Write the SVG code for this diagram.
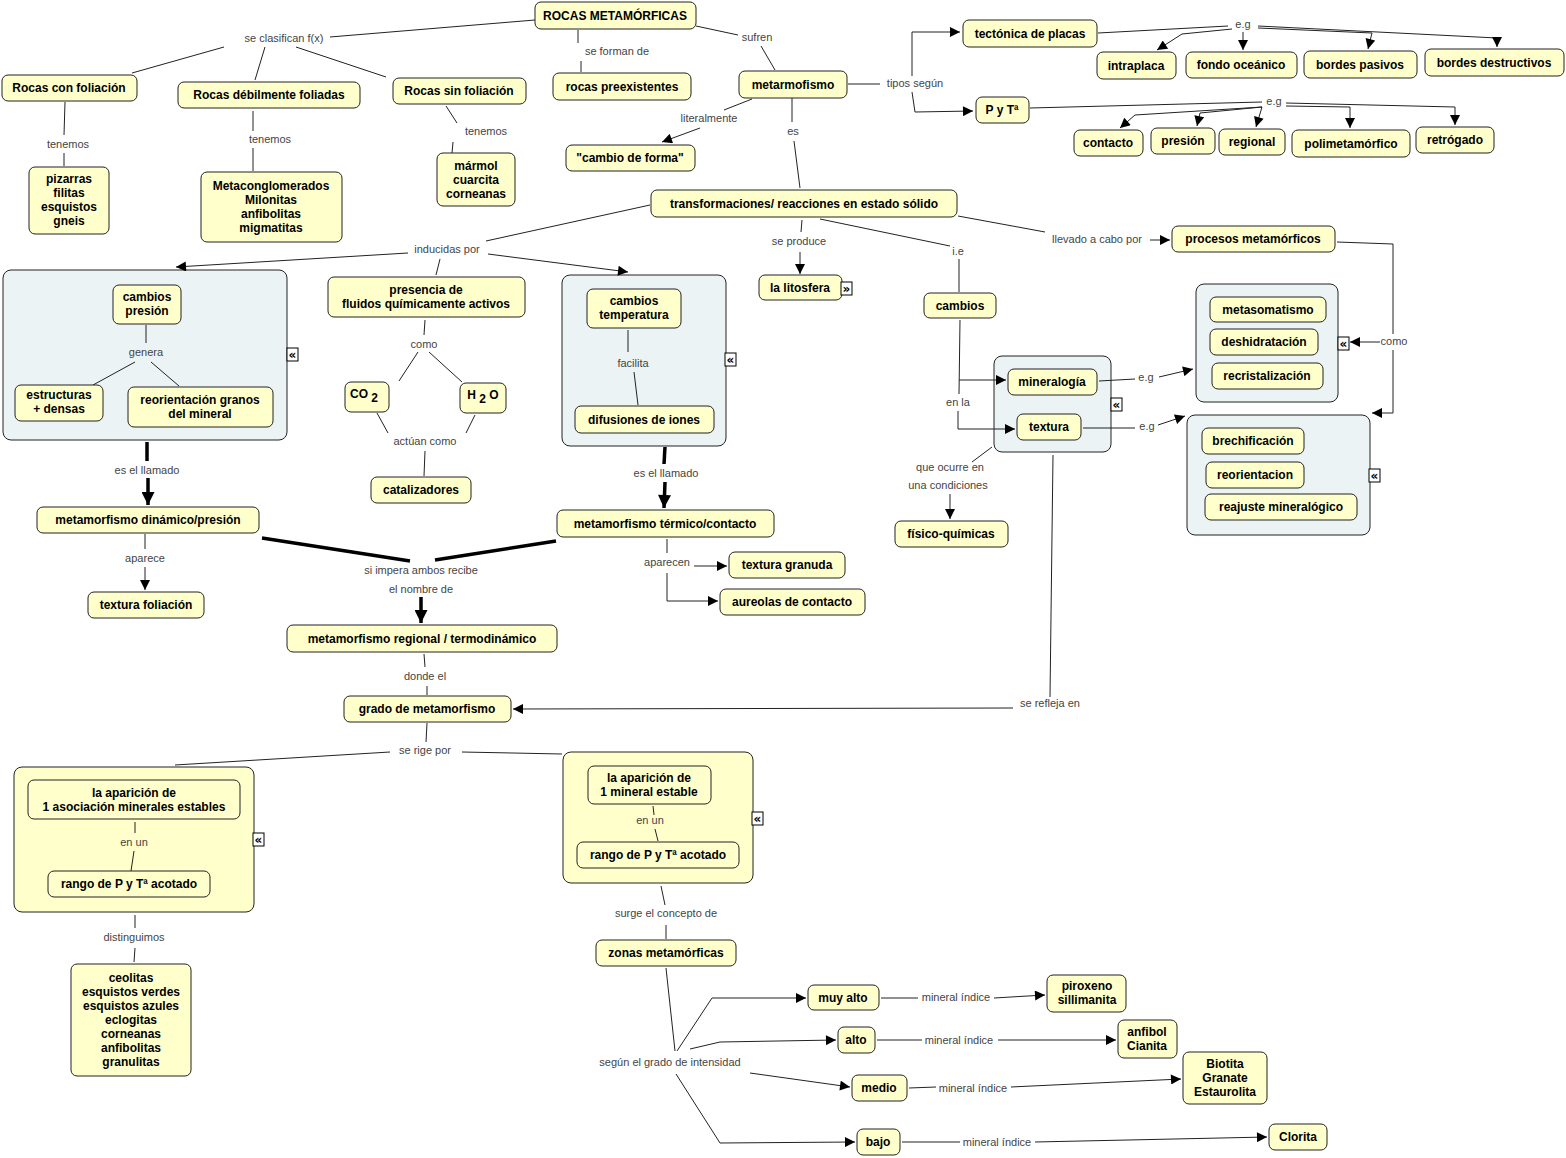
<svg xmlns="http://www.w3.org/2000/svg" width="1566" height="1158" viewBox="0 0 1566 1158">
<defs>
<marker id="a" viewBox="0 0 10 10" refX="10" refY="5" markerWidth="12" markerHeight="10" markerUnits="userSpaceOnUse" orient="auto"><path d="M0,0 L10,5 L0,10 z" fill="#000"/></marker>
<marker id="ab" viewBox="0 0 10 10" refX="10" refY="5" markerWidth="17" markerHeight="13" markerUnits="userSpaceOnUse" orient="auto"><path d="M0,0 L10,5 L0,10 z" fill="#000"/></marker>
<style>
.n{fill:#FFFFCC;stroke:#222;stroke-width:1}
.cb{fill:#ECF3F5;stroke:#222;stroke-width:1}
.cy{fill:#FFFFCC;stroke:#222;stroke-width:1}
.t{font-family:"Liberation Sans",Arial,sans-serif;font-size:12px;font-weight:bold;fill:#000;text-anchor:middle}
.l{font-family:"Liberation Sans",Arial,sans-serif;font-size:11px;fill:#444;text-anchor:middle}
.e path{fill:none;stroke:#222;stroke-width:1}
.e path.k{stroke:#000;stroke-width:3.5}
.ic{fill:#fff;stroke:#000;stroke-width:1}
.it{font-family:"DejaVu Sans",sans-serif;font-size:12px;font-weight:bold;fill:#000;text-anchor:middle}
</style>
</defs>
<rect width="1566" height="1158" fill="#fff"/>

<g id="containers">
<g id="c-presion"><rect class="cb" x="3" y="270" width="284" height="170" rx="8"/><rect class="ic" x="287" y="348" width="11" height="13"/><text class="it" x="292.5" y="359">«</text></g>
<g id="c-temperatura"><rect class="cb" x="562" y="275" width="164" height="171" rx="8"/><rect class="ic" x="725" y="353" width="11" height="13"/><text class="it" x="730.5" y="364">«</text></g>
<g id="c-asociacion"><rect class="cy" x="14" y="767" width="240" height="145" rx="8"/><rect class="ic" x="253" y="833" width="11" height="13"/><text class="it" x="258.5" y="844">«</text></g>
<g id="c-mineral"><rect class="cy" x="563" y="752" width="190" height="131" rx="8"/><rect class="ic" x="752" y="812" width="11" height="13"/><text class="it" x="757.5" y="823">«</text></g>
<g id="c-mintext"><rect class="cb" x="994" y="356" width="117" height="96" rx="8"/><rect class="ic" x="1111" y="398" width="11" height="13"/><text class="it" x="1116.5" y="409">«</text></g>
<g id="c-procesos1"><rect class="cb" x="1196" y="284" width="142" height="118" rx="8"/><rect class="ic" x="1338" y="337" width="11" height="13"/><text class="it" x="1343.5" y="348">«</text></g>
<g id="c-procesos2"><rect class="cb" x="1187" y="415" width="183" height="120" rx="8"/><rect class="ic" x="1369" y="469" width="11" height="13"/><text class="it" x="1374.5" y="480">«</text></g>
</g>

<g id="connectors" class="e">
<path d="M535,20 L330,37"/>
<path d="M224,47 L132,73"/>
<path d="M265,47 L255,80"/>
<path d="M296,47 L386,77"/>
<path d="M65,102 L64,135"/><path d="M64,153 L64,166"/>
<path d="M253,111 L253,131"/><path d="M253,148 L253,171"/>
<path d="M446,106 L457,123"/><path d="M453,142 L452,153"/>
<path d="M578,30 L578,43"/><path d="M581,61 L581,72"/>
<path d="M696,26 L738,35"/><path d="M761,46 L775,70"/>
<path d="M848,84 L880,84"/>
<path d="M912,76 L912,32 L960,32" marker-end="url(#a)"/>
<path d="M912,92 L915,112 L973,111" marker-end="url(#a)"/>
<path d="M1098,33 L1228,26"/>
<path d="M1258,26 L1497,38 L1497,47" marker-end="url(#a)"/>
<path d="M1232,29 L1182,34 L1157,50" marker-end="url(#a)"/>
<path d="M1243,32 L1243,50" marker-end="url(#a)"/>
<path d="M1258,28 L1372,33 L1368,49" marker-end="url(#a)"/>
<path d="M1030,108 L1262,102"/>
<path d="M1286,103 L1455,107 L1455,125" marker-end="url(#a)"/>
<path d="M1262,107 L1135,115 L1120,128" marker-end="url(#a)"/>
<path d="M1262,107 L1200,113 L1197,126" marker-end="url(#a)"/>
<path d="M1262,107 L1256,127" marker-end="url(#a)"/>
<path d="M1286,106 L1350,107 L1350,128" marker-end="url(#a)"/>
<path d="M752,99 L724,110"/><path d="M700,128 L662,142" marker-end="url(#a)"/>
<path d="M792,98 L792,122"/><path d="M794,141 L800,188"/>
<path d="M650,205 L486,241"/>
<path d="M408,253 L176,267" marker-end="url(#a)"/>
<path d="M488,254 L628,272" marker-end="url(#a)"/>
<path d="M440,259 L436,275"/>
<path d="M146,325 L146,343"/><path d="M135,362 L93,385"/><path d="M151,362 L179,386"/>
<path d="M425,320 L424,335"/><path d="M418,352 L399,381"/><path d="M429,352 L462,382"/>
<path d="M377,413 L388,433"/><path d="M475,415 L466,433"/><path d="M425,451 L424,476"/>
<path d="M628,330 L628,352"/><path d="M634,372 L638,405"/>
<path class="k" d="M147,442 L147,461"/><path class="k" d="M148,478 L148,505" marker-end="url(#ab)"/>
<path class="k" d="M665,447 L664,464"/><path class="k" d="M665,482 L664,508" marker-end="url(#ab)"/>
<path d="M145,534 L145,549"/><path d="M145,567 L145,590" marker-end="url(#a)"/>
<path class="k" d="M262,538 L410,561"/><path class="k" d="M556,541 L435,560"/>
<path class="k" d="M421,597 L421,623" marker-end="url(#ab)"/>
<path d="M667,539 L667,553"/><path d="M694,566 L727,566" marker-end="url(#a)"/>
<path d="M667,573 L667,601 L718,601" marker-end="url(#a)"/>
<path d="M424,654 L425,667"/><path d="M427,686 L427,695"/>
<path d="M1053,455 L1050,697"/><path d="M1013,708 L513,709" marker-end="url(#a)"/>
<path d="M427,723 L426,742"/><path d="M390,752 L175,765"/><path d="M462,752 L562,754"/>
<path d="M135,822 L135,833"/><path d="M134,851 L131,871"/>
<path d="M135,915 L135,928"/><path d="M135,948 L134,962"/>
<path d="M653,806 L654,815"/><path d="M655,829 L658,841"/>
<path d="M661,886 L665,905"/><path d="M666,925 L666,939"/>
<path d="M666,968 L675,1051"/>
<path d="M677,1051 L712,998 L806,998" marker-end="url(#a)"/>
<path d="M690,1049 L720,1042 L836,1040" marker-end="url(#a)"/>
<path d="M750,1073 L850,1087" marker-end="url(#a)"/>
<path d="M676,1074 L720,1143 L855,1142" marker-end="url(#a)"/>
<path d="M881,998 L918,998"/><path d="M994,998 L1045,995" marker-end="url(#a)"/>
<path d="M877,1040 L922,1040"/><path d="M998,1040 L1116,1040" marker-end="url(#a)"/>
<path d="M909,1088 L936,1087"/><path d="M1011,1087 L1181,1079" marker-end="url(#a)"/>
<path d="M902,1142 L960,1142"/><path d="M1035,1142 L1267,1137" marker-end="url(#a)"/>
<path d="M802,220 L801,232"/><path d="M800,252 L800,274" marker-end="url(#a)"/>
<path d="M820,219 L950,246"/><path d="M959,259 L959,292"/>
<path d="M960,320 L959,394"/>
<path d="M959,380 L1006,380" marker-end="url(#a)"/>
<path d="M958,411 L958,429 L1015,429" marker-end="url(#a)"/>
<path d="M1099,381 L1135,379"/><path d="M1159,377 L1193,369" marker-end="url(#a)"/>
<path d="M1083,428 L1135,428"/><path d="M1158,425 L1185,416" marker-end="url(#a)"/>
<path d="M992,447 L972,462"/><path d="M950,494 L950,519" marker-end="url(#a)"/>
<path d="M958,216 L1045,232"/><path d="M1150,240 L1170,240" marker-end="url(#a)"/>
<path d="M1337,242 L1393,244 L1393,334"/>
<path d="M1393,350 L1393,413 L1372,413" marker-end="url(#a)"/>
<path d="M1380,342 L1350,342" marker-end="url(#a)"/>
</g>

<g id="labels">
<text class="l" x="284" y="42">se clasifican f(x)</text>
<text class="l" x="68" y="148">tenemos</text>
<text class="l" x="270" y="143">tenemos</text>
<text class="l" x="486" y="135">tenemos</text>
<text class="l" x="617" y="55">se forman de</text>
<text class="l" x="757" y="41">sufren</text>
<text class="l" x="915" y="87">tipos según</text>
<text class="l" x="1243" y="28">e.g</text>
<text class="l" x="1274" y="105">e.g</text>
<text class="l" x="709" y="122">literalmente</text>
<text class="l" x="793" y="135">es</text>
<text class="l" x="447" y="253">inducidas por</text>
<text class="l" x="146" y="356">genera</text>
<text class="l" x="424" y="348">como</text>
<text class="l" x="425" y="445">actúan como</text>
<text class="l" x="633" y="367">facilita</text>
<text class="l" x="147" y="474">es el llamado</text>
<text class="l" x="666" y="477">es el llamado</text>
<text class="l" x="145" y="562">aparece</text>
<text class="l" x="421" y="574">si impera ambos recibe</text>
<text class="l" x="421" y="593">el nombre de</text>
<text class="l" x="667" y="566">aparecen</text>
<text class="l" x="425" y="680">donde el</text>
<text class="l" x="1050" y="707">se refleja en</text>
<text class="l" x="425" y="754">se rige por</text>
<text class="l" x="134" y="846">en un</text>
<text class="l" x="650" y="824">en un</text>
<text class="l" x="134" y="941">distinguimos</text>
<text class="l" x="666" y="917">surge el concepto de</text>
<text class="l" x="670" y="1066">según el grado de intensidad</text>
<text class="l" x="956" y="1001">mineral índice</text>
<text class="l" x="959" y="1044">mineral índice</text>
<text class="l" x="973" y="1092">mineral índice</text>
<text class="l" x="997" y="1146">mineral índice</text>
<text class="l" x="799" y="245">se produce</text>
<text class="l" x="958" y="255">i.e</text>
<text class="l" x="958" y="406">en la</text>
<text class="l" x="1146" y="381">e.g</text>
<text class="l" x="1147" y="430">e.g</text>
<text class="l" x="950" y="471">que ocurre en</text>
<text class="l" x="948" y="489">una condiciones</text>
<text class="l" x="1097" y="243">llevado a cabo por</text>
<text class="l" x="1394" y="345">como</text>
</g>

<g id="n-rocas"><rect class="n" x="535" y="2" width="161" height="27" rx="6"/><text class="t" x="615" y="20">ROCAS METAMÓRFICAS</text></g>
<g id="n-confol"><rect class="n" x="2" y="75" width="135" height="26" rx="6"/><text class="t" x="69" y="92">Rocas con foliación</text></g>
<g id="n-debil"><rect class="n" x="178" y="82" width="182" height="26" rx="6"/><text class="t" x="269" y="99">Rocas débilmente foliadas</text></g>
<g id="n-sinfol"><rect class="n" x="393" y="78" width="133" height="26" rx="6"/><text class="t" x="459" y="95">Rocas sin foliación</text></g>
<g id="n-pizarras"><rect class="n" x="29" y="167" width="80" height="67" rx="6"/><text class="t" x="69" y="183">pizarras</text><text class="t" x="69" y="197">filitas</text><text class="t" x="69" y="211">esquistos</text><text class="t" x="69" y="225">gneis</text></g>
<g id="n-metacong"><rect class="n" x="201" y="172" width="141" height="70" rx="6"/><text class="t" x="271" y="190">Metaconglomerados</text><text class="t" x="271" y="204">Milonitas</text><text class="t" x="271" y="218">anfibolitas</text><text class="t" x="271" y="232">migmatitas</text></g>
<g id="n-marmol"><rect class="n" x="437" y="153" width="78" height="53" rx="6"/><text class="t" x="476" y="170">mármol</text><text class="t" x="476" y="184">cuarcita</text><text class="t" x="476" y="198">corneanas</text></g>
<g id="n-preex"><rect class="n" x="553" y="73" width="138" height="27" rx="6"/><text class="t" x="622" y="91">rocas preexistentes</text></g>
<g id="n-metarm"><rect class="n" x="739" y="71" width="108" height="27" rx="6"/><text class="t" x="793" y="89">metarmofismo</text></g>
<g id="n-cambioforma"><rect class="n" x="566" y="145" width="129" height="26" rx="6"/><text class="t" x="630" y="162">"cambio de forma"</text></g>
<g id="n-tectonica"><rect class="n" x="963" y="20" width="134" height="27" rx="6"/><text class="t" x="1030" y="38">tectónica de placas</text></g>
<g id="n-intraplaca"><rect class="n" x="1097" y="52" width="79" height="27" rx="6"/><text class="t" x="1136" y="70">intraplaca</text></g>
<g id="n-fondo"><rect class="n" x="1186" y="52" width="111" height="26" rx="6"/><text class="t" x="1241" y="69">fondo oceánico</text></g>
<g id="n-pasivos"><rect class="n" x="1304" y="51" width="113" height="27" rx="6"/><text class="t" x="1360" y="69">bordes pasivos</text></g>
<g id="n-destruct"><rect class="n" x="1425" y="49" width="139" height="27" rx="6"/><text class="t" x="1494" y="67">bordes destructivos</text></g>
<g id="n-pyt"><rect class="n" x="976" y="97" width="53" height="26" rx="6"/><text class="t" x="1002" y="114">P y Tª</text></g>
<g id="n-contacto"><rect class="n" x="1074" y="130" width="69" height="26" rx="6"/><text class="t" x="1108" y="147">contacto</text></g>
<g id="n-presion"><rect class="n" x="1151" y="128" width="64" height="26" rx="6"/><text class="t" x="1183" y="145">presión</text></g>
<g id="n-regional"><rect class="n" x="1219" y="129" width="66" height="26" rx="6"/><text class="t" x="1252" y="146">regional</text></g>
<g id="n-polimet"><rect class="n" x="1292" y="130" width="118" height="27" rx="6"/><text class="t" x="1351" y="148">polimetamórfico</text></g>
<g id="n-retrogado"><rect class="n" x="1416" y="127" width="78" height="26" rx="6"/><text class="t" x="1455" y="144">retrógado</text></g>
<g id="n-trans"><rect class="n" x="651" y="190" width="306" height="27" rx="6"/><text class="t" x="804" y="208">transformaciones/ reacciones en estado sólido</text></g>

<g id="n-cambiospresion"><rect class="n" x="113" y="285" width="68" height="39" rx="6"/><text class="t" x="147" y="301">cambios</text><text class="t" x="147" y="315">presión</text></g>
<g id="n-estructuras"><rect class="n" x="15" y="385" width="88" height="36" rx="6"/><text class="t" x="59" y="399">estructuras</text><text class="t" x="59" y="413">+ densas</text></g>
<g id="n-reorientgranos"><rect class="n" x="128" y="387" width="145" height="40" rx="6"/><text class="t" x="200" y="404">reorientación granos</text><text class="t" x="200" y="418">del mineral</text></g>
<g id="n-presencia"><rect class="n" x="328" y="277" width="197" height="40" rx="6"/><text class="t" x="426" y="294">presencia de</text><text class="t" x="426" y="308">fluidos químicamente activos</text></g>
<g id="n-co2"><rect class="n" x="345" y="382" width="44" height="30" rx="6"/><text class="t" x="364" y="398">CO<tspan dy="4"> 2</tspan></text></g>
<g id="n-h2o"><rect class="n" x="460" y="383" width="46" height="30" rx="6"/><text class="t" x="483" y="399">H<tspan dy="4"> 2</tspan><tspan dy="-4"> O</tspan></text></g>
<g id="n-catalizadores"><rect class="n" x="371" y="477" width="100" height="26" rx="6"/><text class="t" x="421" y="494">catalizadores</text></g>
<g id="n-cambiostemp"><rect class="n" x="587" y="289" width="94" height="39" rx="6"/><text class="t" x="634" y="305">cambios</text><text class="t" x="634" y="319">temperatura</text></g>
<g id="n-difusiones"><rect class="n" x="575" y="406" width="139" height="27" rx="6"/><text class="t" x="644" y="424">difusiones de iones</text></g>
<g id="n-dinamico"><rect class="n" x="37" y="507" width="222" height="26" rx="6"/><text class="t" x="148" y="524">metamorfismo dinámico/presión</text></g>
<g id="n-termico"><rect class="n" x="557" y="510" width="217" height="27" rx="6"/><text class="t" x="665" y="528">metamorfismo térmico/contacto</text></g>
<g id="n-foliacion"><rect class="n" x="88" y="592" width="116" height="26" rx="6"/><text class="t" x="146" y="609">textura foliación</text></g>
<g id="n-regtermo"><rect class="n" x="287" y="625" width="270" height="27" rx="6"/><text class="t" x="422" y="643">metamorfismo regional / termodinámico</text></g>
<g id="n-granuda"><rect class="n" x="729" y="552" width="116" height="26" rx="6"/><text class="t" x="787" y="569">textura granuda</text></g>
<g id="n-aureolas"><rect class="n" x="720" y="589" width="145" height="26" rx="6"/><text class="t" x="792" y="606">aureolas de contacto</text></g>
<g id="n-grado"><rect class="n" x="344" y="696" width="167" height="26" rx="6"/><text class="t" x="427" y="713">grado de metamorfismo</text></g>
<g id="n-aparicion1"><rect class="n" x="28" y="780" width="212" height="39" rx="6"/><text class="t" x="134" y="797">la aparición de</text><text class="t" x="134" y="811">1 asociación minerales estables</text></g>
<g id="n-rango1"><rect class="n" x="48" y="871" width="162" height="26" rx="6"/><text class="t" x="129" y="888">rango de P y Tª acotado</text></g>
<g id="n-ceolitas"><rect class="n" x="71" y="964" width="120" height="112" rx="6"/><text class="t" x="131" y="982">ceolitas</text><text class="t" x="131" y="996">esquistos verdes</text><text class="t" x="131" y="1010">esquistos azules</text><text class="t" x="131" y="1024">eclogitas</text><text class="t" x="131" y="1038">corneanas</text><text class="t" x="131" y="1052">anfibolitas</text><text class="t" x="131" y="1066">granulitas</text></g>
<g id="n-aparicion2"><rect class="n" x="588" y="766" width="123" height="38" rx="6"/><text class="t" x="649" y="782">la aparición de</text><text class="t" x="649" y="796">1 mineral estable</text></g>
<g id="n-rango2"><rect class="n" x="577" y="842" width="162" height="26" rx="6"/><text class="t" x="658" y="859">rango de P y Tª acotado</text></g>
<g id="n-zonas"><rect class="n" x="596" y="940" width="140" height="26" rx="6"/><text class="t" x="666" y="957">zonas metamórficas</text></g>
<g id="n-muyalto"><rect class="n" x="808" y="985" width="71" height="25" rx="6"/><text class="t" x="843" y="1002">muy alto</text></g>
<g id="n-piroxeno"><rect class="n" x="1047" y="975" width="79" height="37" rx="6"/><text class="t" x="1087" y="990">piroxeno</text><text class="t" x="1087" y="1004">sillimanita</text></g>
<g id="n-alto"><rect class="n" x="838" y="1027" width="37" height="26" rx="6"/><text class="t" x="856" y="1044">alto</text></g>
<g id="n-anfibol"><rect class="n" x="1118" y="1020" width="59" height="38" rx="6"/><text class="t" x="1147" y="1036">anfibol</text><text class="t" x="1147" y="1050">Cianita</text></g>
<g id="n-medio"><rect class="n" x="852" y="1075" width="55" height="26" rx="6"/><text class="t" x="879" y="1092">medio</text></g>
<g id="n-biotita"><rect class="n" x="1183" y="1052" width="84" height="52" rx="6"/><text class="t" x="1225" y="1068">Biotita</text><text class="t" x="1225" y="1082">Granate</text><text class="t" x="1225" y="1096">Estaurolita</text></g>
<g id="n-bajo"><rect class="n" x="857" y="1129" width="43" height="26" rx="6"/><text class="t" x="878" y="1146">bajo</text></g>
<g id="n-clorita"><rect class="n" x="1269" y="1124" width="58" height="26" rx="6"/><text class="t" x="1298" y="1141">Clorita</text></g>
<g id="n-litosfera"><rect class="n" x="759" y="275" width="83" height="25" rx="6"/><text class="t" x="800" y="292">la litosfera</text><rect class="ic" x="841" y="282" width="11" height="13"/><text class="it" x="846.5" y="293">»</text></g>
<g id="n-cambios"><rect class="n" x="924" y="293" width="72" height="25" rx="6"/><text class="t" x="960" y="310">cambios</text></g>
<g id="n-mineralogia"><rect class="n" x="1008" y="369" width="89" height="26" rx="6"/><text class="t" x="1052" y="386">mineralogía</text></g>
<g id="n-textura"><rect class="n" x="1017" y="414" width="64" height="26" rx="6"/><text class="t" x="1049" y="431">textura</text></g>
<g id="n-metasomatismo"><rect class="n" x="1210" y="297" width="116" height="25" rx="6"/><text class="t" x="1268" y="314">metasomatismo</text></g>
<g id="n-deshidratacion"><rect class="n" x="1210" y="329" width="108" height="26" rx="6"/><text class="t" x="1264" y="346">deshidratación</text></g>
<g id="n-recristalizacion"><rect class="n" x="1212" y="363" width="111" height="26" rx="6"/><text class="t" x="1267" y="380">recristalización</text></g>
<g id="n-brechificacion"><rect class="n" x="1202" y="428" width="102" height="26" rx="6"/><text class="t" x="1253" y="445">brechificación</text></g>
<g id="n-reorientacion"><rect class="n" x="1206" y="462" width="98" height="26" rx="6"/><text class="t" x="1255" y="479">reorientacion</text></g>
<g id="n-reajuste"><rect class="n" x="1205" y="494" width="152" height="26" rx="6"/><text class="t" x="1281" y="511">reajuste mineralógico</text></g>
<g id="n-fisico"><rect class="n" x="895" y="521" width="113" height="26" rx="6"/><text class="t" x="951" y="538">físico-químicas</text></g>
<g id="n-procesos"><rect class="n" x="1172" y="226" width="163" height="26" rx="6"/><text class="t" x="1253" y="243">procesos metamórficos</text></g>
</svg>
